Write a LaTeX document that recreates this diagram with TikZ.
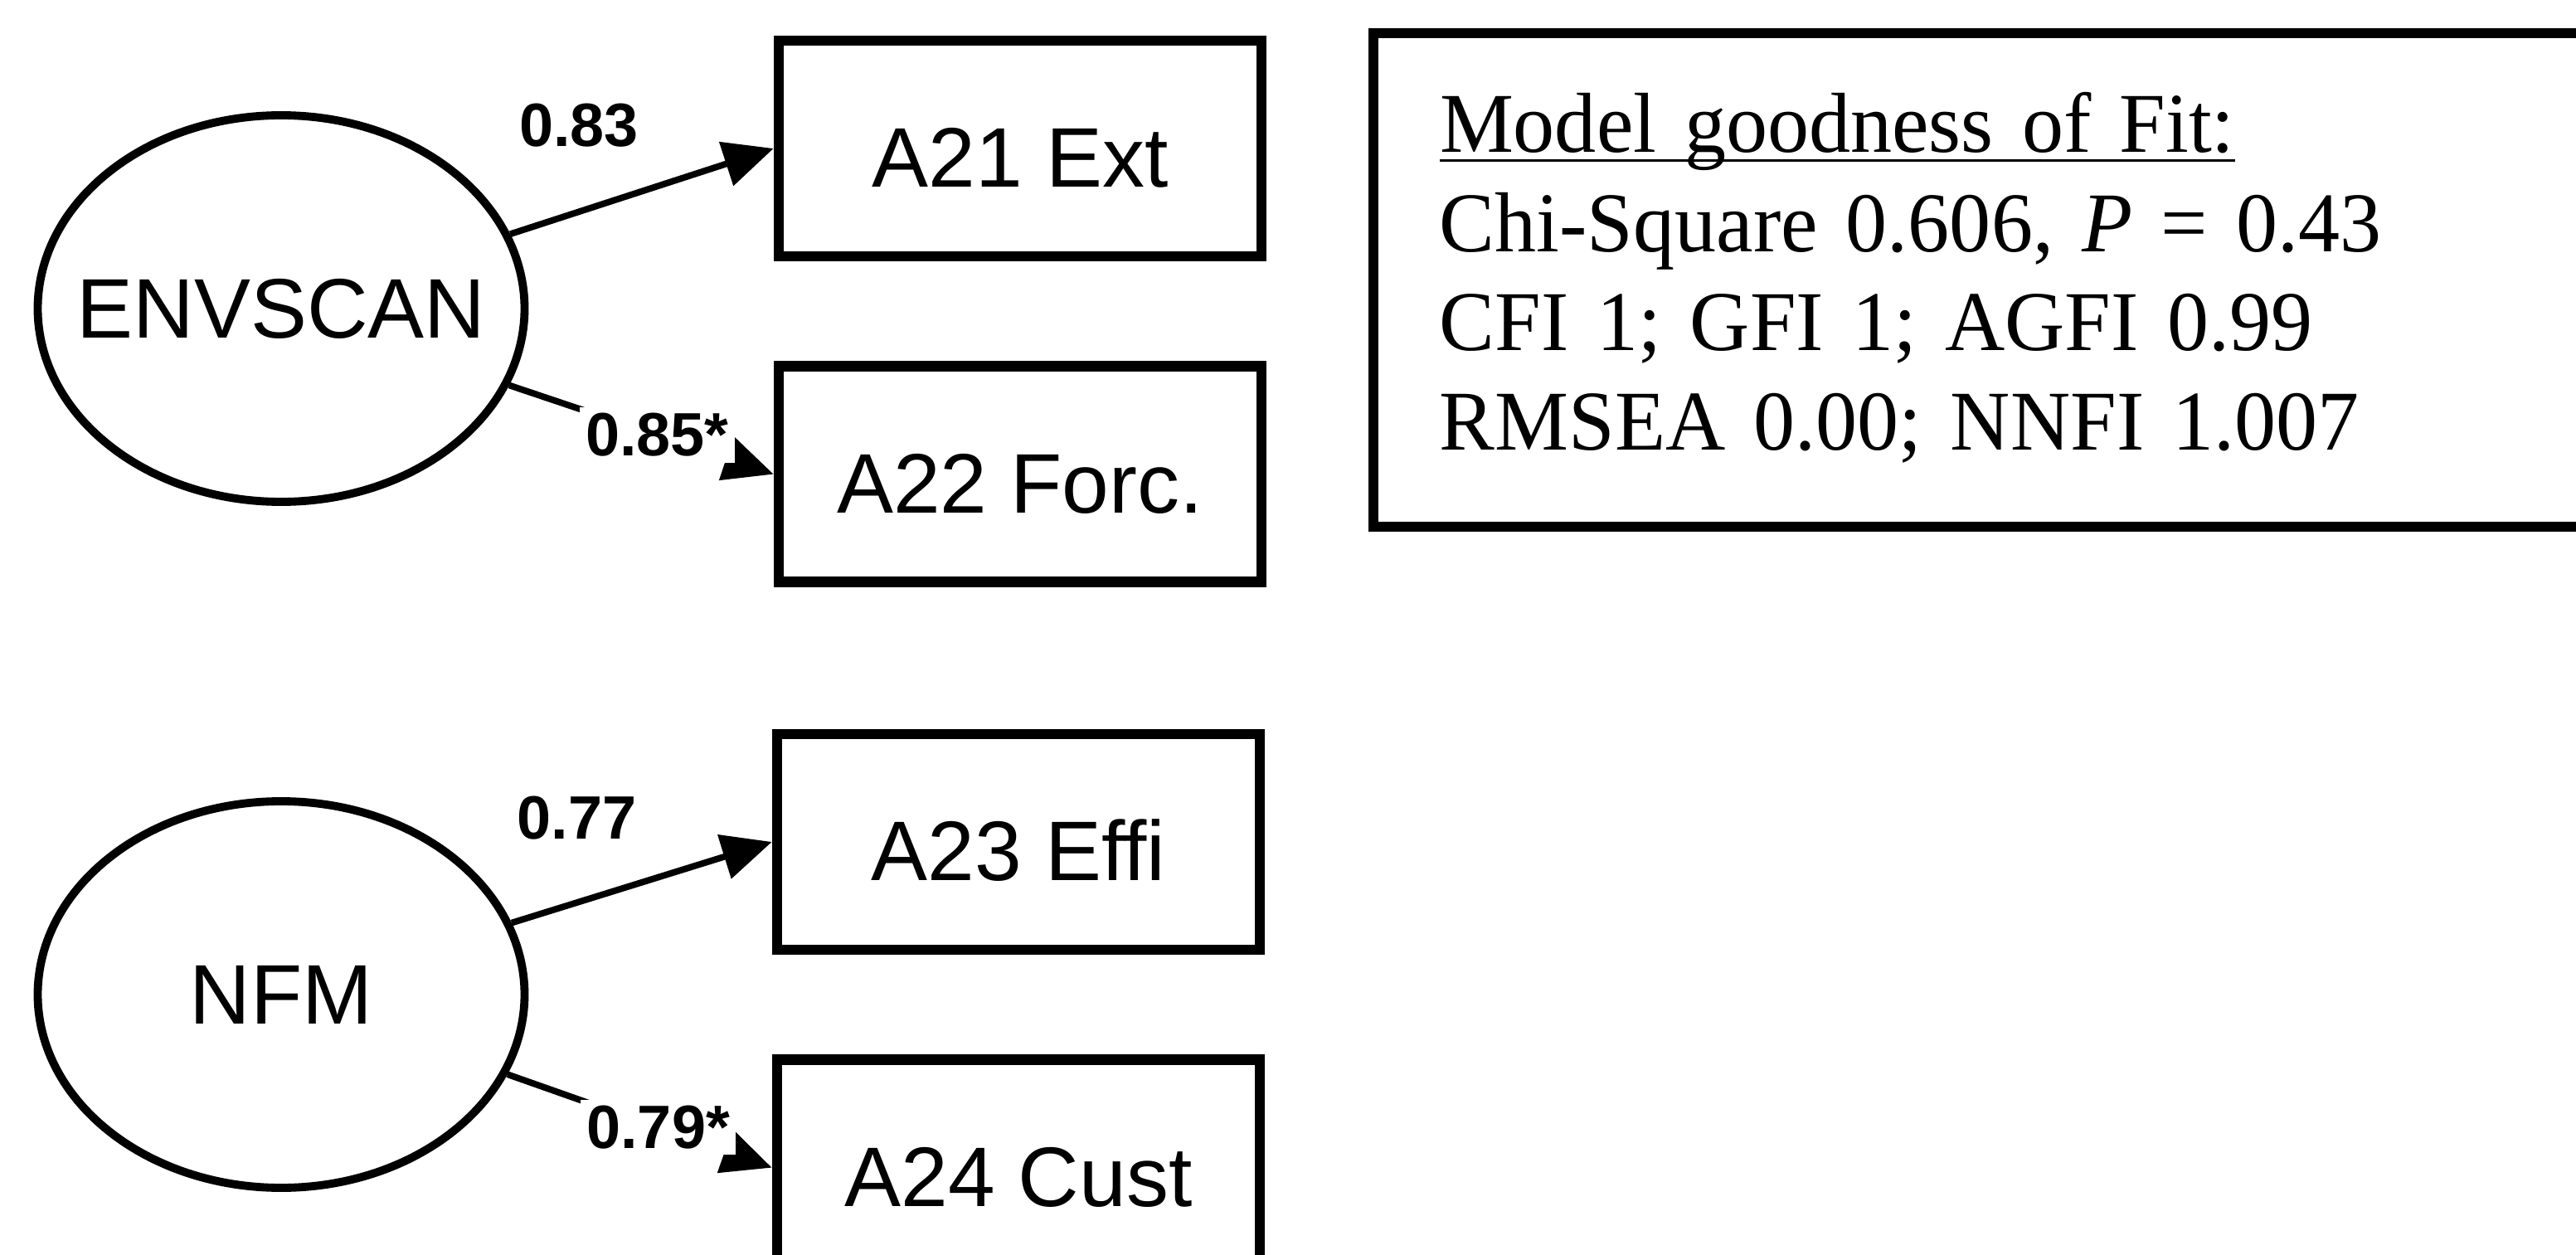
\documentclass[tikz,border=0pt]{standalone}
\usepackage{fontspec}
\setmainfont{Liberation Serif}[WordSpace=0.75, FakeStretch=0.975]
\setsansfont{Liberation Sans}
\usepackage{tikz}
\usetikzlibrary{arrows.meta, positioning, shapes.geometric}

\begin{document}
\begin{tikzpicture}[
    node distance=0.6cm,
    latent/.style={draw, ellipse, line width=1.4pt, minimum width=2.935cm, minimum height=2.33cm, inner sep=0pt, font=\sffamily\fontsize{14.5}{17}\selectfont},
    item/.style={draw, rectangle, line width=1.8pt, minimum width=2.91cm, minimum height=1.3cm, inner sep=0pt, text height=0.47cm, font=\sffamily\fontsize{14.5}{17}\selectfont},
    load/.style={line width=1.1pt, -{Triangle[length=0.3cm, width=0.27cm]}},
    coef/.style={font=\sffamily\bfseries\fontsize{10.5}{12}\selectfont, inner sep=1pt, fill=white}
]
    \useasboundingbox (0,0) rectangle (15.53,-7.565);

    \node[latent] (envscan) at (1.695,-1.86) {\makebox[0pt]{ENVSCAN}};
    \node[latent] (nfm) at (1.695,-5.995) {\makebox[0pt]{NFM}};

    \node[item] (a21) at (6.15,-0.895) {A21 Ext};
    \node[item, below=of a21] (a22) {A22 Forc.};
    \node[item] (a23) at (6.14,-5.075) {A23 Effi};
    \node[item, below=of a23] (a24) {A24 Cust};

    \draw[load] (envscan) -- node[coef, pos=0.26, yshift=0.52cm] (c83) {0.83} (a21.west);
    \draw[load] (envscan) -- node[coef, pos=0.56] (c85) {0.85*} (a22.west);
    \draw[load] (nfm) -- node[coef, pos=0.25, yshift=0.51cm] (c77) {0.77} (a23.west);
    \draw[load] (nfm) -- node[coef, pos=0.57] (c79) {0.79*} (a24.west);

    \node[draw, line width=1.7pt, anchor=north west, minimum height=2.975cm, text width=6.55cm, inner xsep=0.4cm, inner ysep=0pt, align=left, font=\fontsize{14.6}{17}\selectfont] (fit) at (8.25,-0.17) {
        \vphantom{M}\underline{\smash{Model goodness of Fit:}}\\
        Chi-Square 0.606, \textit{P} = 0.43\\
        CFI 1; GFI 1; AGFI 0.99\\
        RMSEA 0.00; NNFI 1.007
    };
\end{tikzpicture}
\end{document}
